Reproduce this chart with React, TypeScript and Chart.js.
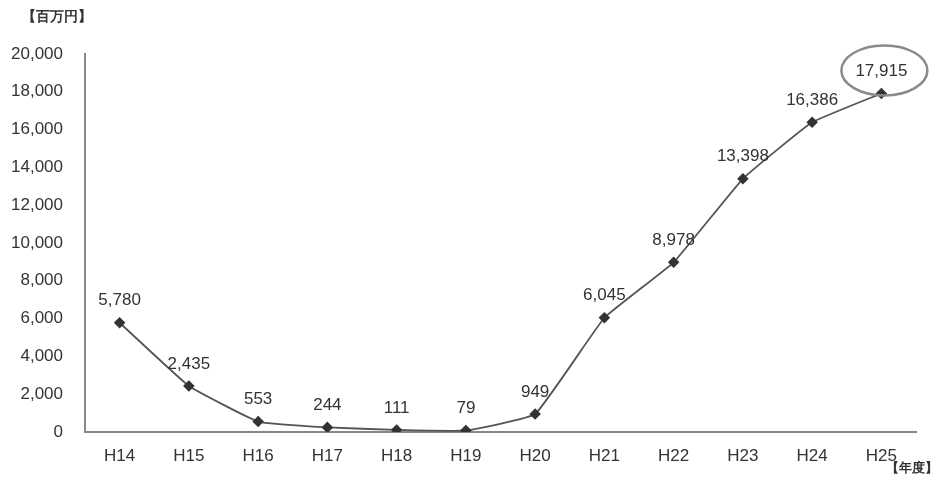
import React, { useEffect, useRef } from "react";
import { Chart, registerables } from "chart.js";

Chart.register(...registerables);

const years = ["H14", "H15", "H16", "H17", "H18", "H19", "H20", "H21", "H22", "H23", "H24", "H25"];
const amounts = [5780, 2435, 553, 244, 111, 79, 949, 6045, 8978, 13398, 16386, 17915];
const unitLabel = "【百万円】";
const yearLabel = "【年度】";
const FONT = "'Liberation Sans', Arial, sans-serif";
const TEXT = "#333";

const fmt = (v: number) => v.toLocaleString("en-US");

const labelsPlugin = {
  id: "labelsAndNotes",
  afterDatasetsDraw(chart: any) {
    const ctx = chart.ctx as CanvasRenderingContext2D;
    const meta = chart.getDatasetMeta(0);
    ctx.save();
    ctx.fillStyle = TEXT;
    ctx.font = `17px ${FONT}`;
    ctx.textAlign = "center";
    ctx.textBaseline = "middle";
    meta.data.forEach((pt: any, i: number) => {
      ctx.fillText(fmt(amounts[i]), pt.x, pt.y - 22);
    });
    // highlight ring round the latest year's value
    const last = meta.data[meta.data.length - 1];
    ctx.strokeStyle = "#8a8a8a";
    ctx.lineWidth = 2.5;
    ctx.beginPath();
    ctx.ellipse(last.x + 3, last.y - 23, 43, 25, 0, 0, Math.PI * 2);
    ctx.stroke();
    // unit captions
    ctx.font = `bold 14px ${FONT}`;
    ctx.textAlign = "left";
    ctx.fillText(unitLabel, 22, 17);
    ctx.font = `bold 13px ${FONT}`;
    ctx.fillText(yearLabel, 886, 468);
    ctx.restore();
  },
};

export default function App() {
  const ref = useRef<HTMLCanvasElement>(null);
  useEffect(() => {
    if (!ref.current) return;
    const chart = new Chart(ref.current, {
      type: "line",
      data: {
        labels: years,
        datasets: [
          {
            data: amounts,
            borderColor: "#555",
            borderWidth: 1.8,
            tension: 0.1,
            pointStyle: "rectRot",
            pointRadius: 4.5,
            pointBackgroundColor: "#333",
            pointBorderColor: "#333",
          },
        ],
      },
      options: {
        animation: false,
        responsive: false,
        layout: { padding: { top: 54, right: 27, left: 0, bottom: 0 } },
        plugins: { legend: { display: false }, tooltip: { enabled: false } },
        scales: {
          x: {
            offset: true,
            grid: { display: false, drawTicks: false },
            border: { color: "#888", width: 2 },
            ticks: { color: TEXT, font: { family: FONT, size: 17 }, padding: 14 },
            afterFit: (s: any) => {
              s.height = 49;
            },
          },
          y: {
            min: 0,
            max: 20000,
            grid: { display: false, drawTicks: false },
            border: { color: "#888", width: 2 },
            ticks: {
              stepSize: 2000,
              color: TEXT,
              font: { family: FONT, size: 17 },
              padding: 22,
              callback: (v: any) => fmt(Number(v)),
            },
            afterFit: (s: any) => {
              s.width = 85;
            },
          },
        },
      },
      plugins: [labelsPlugin],
    });
    return () => chart.destroy();
  }, []);
  return (
    <div style={{ position: "fixed", left: 0, top: 0, width: 943, height: 481, background: "#fff" }}>
      <canvas ref={ref} width={943} height={481} />
    </div>
  );
}
